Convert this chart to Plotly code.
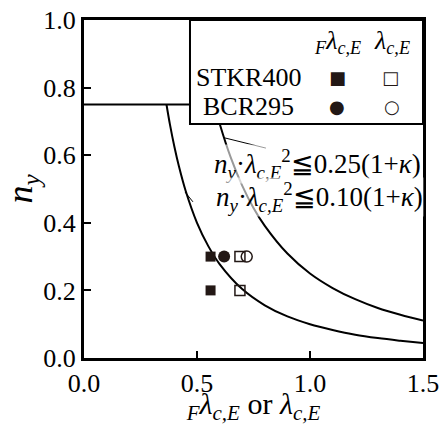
import plotly.graph_objects as go

# ---- data ----
stkr_F_x = [0.56, 0.56]          # F lambda_c,E (filled squares)
stkr_F_y = [0.30, 0.20]
stkr_x = [0.69, 0.69]            # lambda_c,E (open squares)
stkr_y = [0.30, 0.20]
bcr_F_x = [0.62]                 # filled circle
bcr_F_y = [0.30]
bcr_x = [0.72]                   # open circle
bcr_y = [0.30]

# limit line n_y = 0.75
limit_x = [0.0, 0.577]
limit_y = [0.75, 0.75]
# boundary curve n_y*lambda^2 = 0.10(1+k)
c10_x = [0.365, 0.38, 0.40, 0.42, 0.45, 0.50, 0.55, 0.60, 0.70, 0.80, 0.90, 1.00, 1.10, 1.20, 1.30, 1.40, 1.50]
c10_y = [0.750, 0.692, 0.625, 0.567, 0.494, 0.400, 0.331, 0.278, 0.204, 0.156, 0.123, 0.100, 0.083, 0.069, 0.059, 0.051, 0.044]
# boundary curve n_y*lambda^2 = 0.25(1+k)
c25_x = [0.577, 0.60, 0.65, 0.70, 0.75, 0.80, 0.90, 1.00, 1.10, 1.20, 1.30, 1.40, 1.50]
c25_y = [0.750, 0.694, 0.592, 0.510, 0.444, 0.391, 0.309, 0.250, 0.207, 0.174, 0.148, 0.128, 0.111]

x_ticks = [0.0, 0.5, 1.0, 1.5]
y_ticks = [0.0, 0.2, 0.4, 0.6, 0.8, 1.0]

INK = "#231815"
FONT = "'Liberation Serif', 'Times New Roman', Times, serif"

fig = go.Figure()
fig.add_trace(go.Scatter(x=limit_x, y=limit_y, mode="lines", line=dict(color="black", width=2), showlegend=False))
fig.add_trace(go.Scatter(x=c10_x, y=c10_y, mode="lines", line=dict(color="black", width=2, shape="spline"), showlegend=False))
fig.add_trace(go.Scatter(x=c25_x, y=c25_y, mode="lines", line=dict(color="black", width=2, shape="spline"), showlegend=False))

fig.add_trace(go.Scatter(x=stkr_F_x, y=stkr_F_y, mode="markers", name="STKR400 Fλ",
                         marker=dict(symbol="square", size=10, color=INK), showlegend=False))
fig.add_trace(go.Scatter(x=bcr_F_x, y=bcr_F_y, mode="markers", name="BCR295 Fλ",
                         marker=dict(symbol="circle", size=12, color=INK), showlegend=False))
fig.add_trace(go.Scatter(x=stkr_x, y=stkr_y, mode="markers", name="STKR400 λ",
                         marker=dict(symbol="square-open", size=10, color=INK, line=dict(width=1.5)), showlegend=False))
fig.add_trace(go.Scatter(x=bcr_x, y=bcr_y, mode="markers", name="BCR295 λ",
                         marker=dict(symbol="circle-open", size=11, color=INK, line=dict(width=1.5)), showlegend=False))

# legend box
fig.add_shape(type="rect", xref="x", yref="y", x0=0.469, x1=1.5, y0=0.692, y1=1.0,
              line=dict(color="black", width=2), fillcolor="white", layer="above")
# leader lines
fig.add_shape(type="line", xref="x", yref="y", x0=0.624, y0=0.651, x1=0.805, y1=0.621,
              line=dict(color="black", width=1))
fig.add_shape(type="line", xref="x", yref="y", x0=0.447, y0=0.491, x1=0.482, y1=0.462,
              line=dict(color="black", width=1))

lam = "<i>λ</i><sub><i>c,E</i></sub>"
ann = []
ann.append(dict(x=1.12, y=0.935, text="<sub><i>F</i></sub>" + lam, font=dict(size=26)))
ann.append(dict(x=1.365, y=0.935, text=lam, font=dict(size=26)))
ann.append(dict(x=0.726, y=0.831, text="STKR400", font=dict(size=26)))
ann.append(dict(x=0.73, y=0.743, text="BCR295", font=dict(size=26)))
ann.append(dict(x=1.12, y=0.831, text="■", font=dict(size=18, family="DejaVu Sans", color=INK)))
ann.append(dict(x=1.355, y=0.831, text="□", font=dict(size=18, family="DejaVu Sans", color=INK)))
ann.append(dict(x=1.12, y=0.743, text="●", font=dict(size=18, family="DejaVu Sans", color=INK)))
ann.append(dict(x=1.365, y=0.743, text="○", font=dict(size=18, family="DejaVu Sans", color=INK)))
eq = "<i>n</i><sub><i>y</i></sub>·" + lam + "<sup>2</sup>≦{}(1+<i>κ</i>)"
ann.append(dict(x=1.5, y=0.574, text=eq.format("0.25"), xanchor="right", xshift=-1, font=dict(size=27),
                bgcolor="rgba(255,255,255,0.6)", borderpad=0))
ann.append(dict(x=1.5, y=0.476, text=eq.format("0.10"), xanchor="right", xshift=1, font=dict(size=27),
                bgcolor="rgba(255,255,255,0.6)", borderpad=0))
for a in ann:
    a.setdefault("xanchor", "center")
    a.update(xref="x", yref="y", showarrow=False, yanchor="middle")
    a["font"].setdefault("family", FONT)
    a["font"].setdefault("color", "black")
fig.update_layout(annotations=ann)

fig.update_layout(
    width=447, height=425,
    margin=dict(l=84, r=24, t=20, b=67),
    paper_bgcolor="white", plot_bgcolor="white",
    font=dict(family=FONT, color="black", size=26),
    showlegend=False,
    xaxis=dict(range=[0, 1.5], tickvals=x_ticks, ticktext=[f"{v:.1f}" for v in x_ticks],
               ticks="inside", ticklen=7, tickwidth=2, tickcolor="black",
               showline=True, linewidth=3, linecolor="black", mirror=True,
               showgrid=False, zeroline=False, automargin=False,
               title=dict(text="<sub><i>F</i></sub>" + lam + " or " + lam, font=dict(size=30), standoff=7)),
    yaxis=dict(range=[0, 1.0], tickvals=y_ticks, ticktext=[f"{v:.1f}" for v in y_ticks],
               ticks="inside", ticklen=7, tickwidth=2, tickcolor="black",
               showline=True, linewidth=3, linecolor="black", mirror=True,
               showgrid=False, zeroline=False, automargin=False,
               title=dict(text="<i>n</i><sub><i>y</i></sub>", font=dict(size=36), standoff=4)),
)

fig.write_html("out.html", config={"displayModeBar": False},
               post_script="document.body.style.margin='0';")
